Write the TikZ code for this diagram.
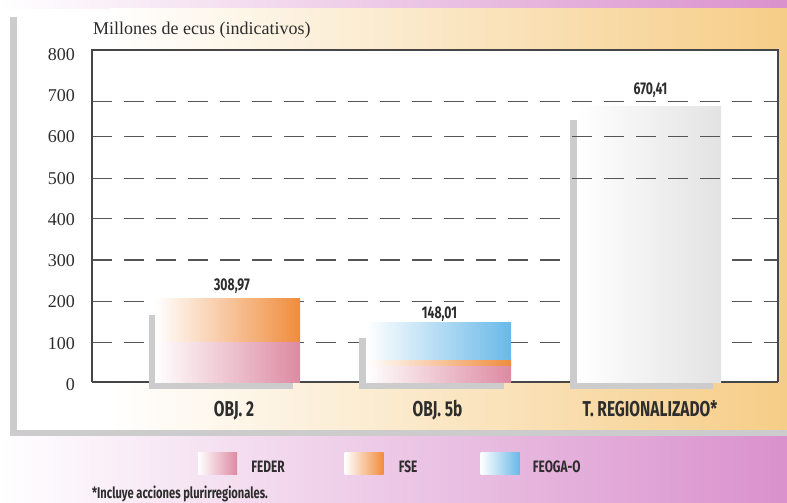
\documentclass[tikz,border=0pt]{standalone}
\usepackage{fontspec}
\usepackage{tikz}
\usepackage{xcolor}
\usetikzlibrary{positioning}
\newfontfamily\condfont[FakeStretch=0.72]{Fira Sans}
\newfontfamily\timesfont{Liberation Serif}

\definecolor{federc}{RGB}{221,138,162}
\definecolor{federm}{RGB}{242,205,214}
\definecolor{fsec}{RGB}{240,140,60}
\definecolor{fsem}{RGB}{251,212,140}
\definecolor{feogac}{RGB}{105,185,232}
\definecolor{feogam}{RGB}{200,232,245}
\definecolor{backc}{RGB}{204,204,204}
\definecolor{axisc}{RGB}{70,70,70}
\definecolor{dashc}{RGB}{85,85,85}
\definecolor{txtc}{RGB}{45,45,45}
\definecolor{ylwa}{RGB}{252,240,185}
\definecolor{ylwb}{RGB}{246,205,135}
\definecolor{pinka}{RGB}{240,205,232}
\definecolor{pinkb}{RGB}{218,145,205}

\tikzstyle{ylab} = [anchor=base east, font=\timesfont\fontsize{18}{18}\selectfont, text=txtc, inner sep=0pt]
\tikzstyle{vallab} = [anchor=base, font=\condfont\bfseries\fontsize{17}{17}\selectfont, text=txtc, inner sep=0pt]
\tikzstyle{xlab} = [anchor=base, font=\condfont\bfseries\fontsize{21.5}{21.5}\selectfont, text=txtc, inner sep=0pt]
\tikzstyle{legtxt} = [font=\condfont\bfseries\fontsize{16.5}{16.5}\selectfont, text=txtc, inner sep=0pt]
\tikzstyle{legsw} = [minimum width=39pt, minimum height=22pt, inner sep=0pt]
\tikzstyle{gridline} = [dashc, line width=1.5pt, dash pattern=on 20pt off 12pt]
\tikzstyle{backbar} = [fill=backc]

\begin{document}
\begin{tikzpicture}[x=1pt,y=-1pt]
  \useasboundingbox (0,0) rectangle (787,503);
  \clip (0,0) rectangle (787,503);

  % backgrounds
  \fill[left color=white, middle color=pinka, right color=pinkb] (0,0) rectangle (787,9);
  \fill[white] (0,9) rectangle (787,436);
  \fill[left color=white, middle color=ylwa, right color=ylwb] (110,9) rectangle (787,436);
  \fill[left color=white, middle color=pinka, right color=pinkb] (0,436) rectangle (787,503);
  \fill[backc] (10,17) rectangle (17,436);
  \fill[backc] (10,430) rectangle (787,436);

  % plot area
  \fill[white] (92,50) rectangle (778,382);
  \draw[axisc, line width=1.3pt] (92,382) -- (778,382);
  \draw[gridline] (92,342.3) -- (778,342.3);
  \draw[gridline] (92,301.7) -- (778,301.7);
  \draw[gridline] (92,260) -- (778,260);
  \draw[gridline] (92,218.3) -- (778,218.3);

  % OBJ. 2
  \fill[backbar] (149,315) rectangle (155,389);
  \fill[backbar] (149,382) rectangle (293,389);
  \fill[left color=white, middle color=federm, right color=federc] (155,341) rectangle (300,382);
  \fill[left color=white, middle color=fsem, right color=fsec] (155,298) rectangle (300,341);

  % OBJ. 5b
  \fill[backbar] (359,338) rectangle (366,389);
  \fill[backbar] (359,382) rectangle (504,389);
  \fill[left color=white, middle color=federm, right color=federc] (366,365) rectangle (511,382);
  \fill[left color=white, middle color=fsem, right color=fsec] (366,359) rectangle (511,365);
  \fill[left color=white, middle color=feogam, right color=feogac] (366,322) rectangle (511,359);

  % T. REGIONALIZADO
  \fill[backbar] (570,120) rectangle (577,389);
  \fill[backbar] (570,382) rectangle (713,389);
  \fill[left color=white, middle color=white, right color=gray!22] (577,106) rectangle (721,382);

  \draw[gridline] (92,178.3) -- (778,178.3);
  \draw[gridline] (92,136.7) -- (778,136.7);
  \draw[gridline] (92,101.7) -- (778,101.7);
  \draw[axisc, line width=1.3pt] (92,382) -- (92,50) -- (778,50) -- (778,382);

  % texts
  \node[anchor=base west, font=\timesfont\fontsize{18}{18}\selectfont, text=txtc, inner sep=0pt] (TITLE) at (93,35) {Millones de ecus (indicativos)};
  \node[ylab] (Y_800) at (75,60) {800};
  \node[ylab] (Y_700) at (75,101.7) {700};
  \node[ylab] (Y_600) at (75,142.7) {600};
  \node[ylab] (Y_500) at (75,184) {500};
  \node[ylab] (Y_400) at (75,225) {400};
  \node[ylab] (Y_300) at (75,266) {300};
  \node[ylab] (Y_200) at (75,307.3) {200};
  \node[ylab] (Y_100) at (75,349) {100};
  \node[ylab] (Y_0) at (75,390) {0};

  \node[vallab] (V_OBJ2) at (232,290) {308,97};
  \node[vallab] (V_OBJ5b) at (439.5,318) {148,01};
  \node[vallab] (V_TREG) at (650.5,95) {670,41};
  \node[xlab] (X_OBJ2) at (234,416.7) {OBJ. 2};
  \node[xlab] (X_OBJ5b) at (437.5,416.7) {OBJ. 5b};
  \node[xlab] (X_TREG) at (650,416.7) {T. REGIONALIZADO*};

  % legend
  \node[legsw, left color=white, middle color=federm, right color=federc] (S_FEDER) at (217.5,463) {};
  \node[legsw, left color=white, middle color=fsem, right color=fsec] (S_FSE) at (364,463) {};
  \node[legsw, left color=white, middle color=feogam, right color=feogac] (S_FEOGA) at (500,463) {};
  \node[legtxt, right=14pt of S_FEDER, yshift=-3.5pt] (T_FEDER) {FEDER};
  \node[legtxt, right=15pt of S_FSE, yshift=-3.5pt] (T_FSE) {FSE};
  \node[legtxt, right=13pt of S_FEOGA, yshift=-3.5pt] (T_FEOGA) {FEOGA-O};

  \node[anchor=base west, font=\condfont\bfseries\fontsize{15.5}{15.5}\selectfont, text=txtc, inner sep=0pt] (NOTE) at (92,498.5) {*Incluye acciones plurirregionales.};
\end{tikzpicture}
\end{document}
